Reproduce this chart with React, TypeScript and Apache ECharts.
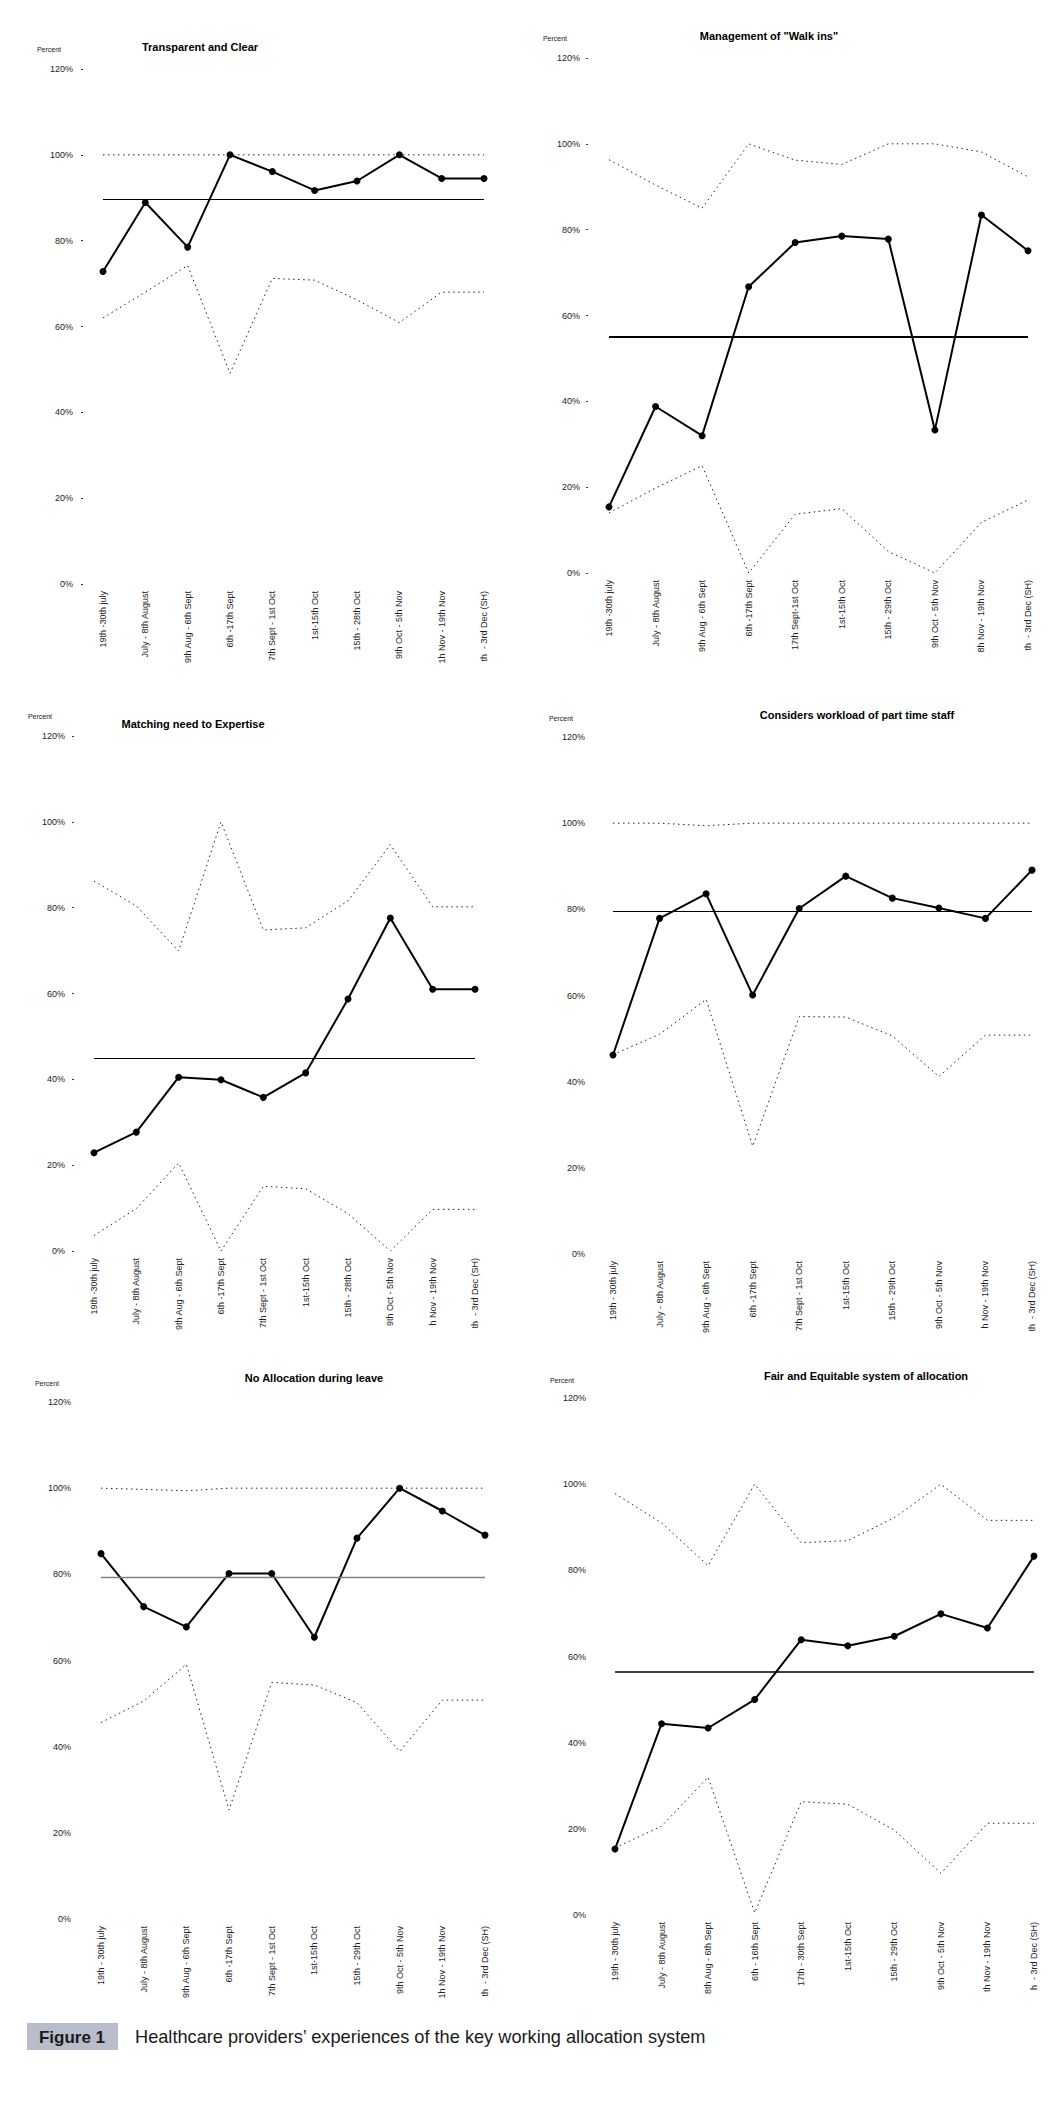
import React, { useEffect, useRef } from "react";
import * as echarts from "echarts";

const FONT = "'Liberation Sans', Arial, Helvetica, sans-serif";

// y axis scale (percent)
const yMin = 0;
const yMax = 120;
const yStep = 20;

// ---------- Chart 1: Transparent and Clear ----------
const catsTransparent = ["19th -30th july", "July - 8th August", "9th Aug - 6th Sept", "6th -17th Sept", "7th Sept - 1st Oct", "1st-15th Oct", "15th - 28th Oct", "9th Oct - 5th Nov", "1h Nov - 19th Nov", "th  - 3rd Dec (SH)"];
const valTransparent = [72.8, 88.9, 78.5, 100, 96.1, 91.7, 93.9, 100, 94.5, 94.5];
const uclTransparent = [100, 100, 100, 100, 100, 100, 100, 100, 100, 100];
const lclTransparent = [62, 68, 74.2, 49.1, 71.2, 70.8, 66.2, 60.9, 68, 68];
const meanTransparent = 89.6;

// ---------- Chart 2: Management of "Walk ins" ----------
const catsWalkIns = ["19th -30th july", "July - 8th August", "9th Aug - 6th Sept", "6th -17th Sept", "17th Sept-1st Oct", "1st-15th Oct", "15th - 29th Oct", "9th Oct - 5th Nov", "8h Nov - 19th Nov", "th  - 3rd Dec (SH)"];
const valWalkIns = [15.4, 38.8, 32, 66.7, 77, 78.5, 77.8, 33.3, 83.4, 75.1];
const uclWalkIns = [96.3, 90.4, 85, 100, 96.2, 95.2, 100, 100, 98.1, 92.3];
const lclWalkIns = [14, 19.8, 25, 0, 13.7, 15, 5, 0, 11.8, 17];
const meanWalkIns = 55.1;

// ---------- Chart 3: Matching need to Expertise ----------
const catsExpertise = ["19th -30th july", "July - 8th August", "9th Aug - 6th Sept", "6th -17th Sept", "7th Sept - 1st Oct", "1st-15th Oct", "15th - 28th Oct", "9th Oct - 5th Nov", "h Nov - 19th Nov", "th  - 3rd Dec (SH)"];
const valExpertise = [22.9, 27.7, 40.5, 39.9, 35.8, 41.5, 58.7, 77.6, 61, 61];
const uclExpertise = [86.2, 80.4, 69.9, 100, 74.8, 75.3, 81.6, 94.7, 80.2, 80.2];
const lclExpertise = [3.6, 9.9, 20.5, 0, 15.1, 14.5, 8.7, 0, 9.7, 9.7];
const meanExpertise = 45;

// ---------- Chart 4: Considers workload of part time staff ----------
const catsWorkload = ["19th - 30th july", "July - 8th August", "9th Aug - 6th Sept", "6th -17th Sept", "7th Sept - 1st Oct", "1st-15th Oct", "15th - 29th Oct", "9th Oct - 5th Nov", "h Nov - 19th Nov", "th  - 3rd Dec (SH)"];
const valWorkload = [46.2, 77.9, 83.6, 60.1, 80.2, 87.7, 82.6, 80.3, 77.9, 89.1];
const uclWorkload = [100, 100, 99.4, 100, 100, 100, 100, 100, 100, 100];
const lclWorkload = [46.3, 51, 59.1, 25, 55.1, 55, 50.6, 41.2, 50.8, 50.8];
const meanWorkload = 79.5;

// ---------- Chart 5: No Allocation during leave ----------
const catsLeave = ["19th - 30th july", "July - 8th August", "9th Aug - 6th Sept", "6th -17th Sept", "7th Sept - 1st Oct", "1st-15th Oct", "15th - 29th Oct", "9th Oct - 5th Nov", "1h Nov - 19th Nov", "th  - 3rd Dec (SH)"];
const valLeave = [84.8, 72.5, 67.8, 80.2, 80.2, 65.4, 88.4, 100, 94.7, 89.1];
const uclLeave = [100, 99.7, 99.4, 100, 100, 100, 100, 100, 100, 100];
const lclLeave = [45.6, 50.6, 59.1, 25.3, 54.9, 54.3, 50.2, 38.9, 50.8, 50.8];
const meanLeave = 79.3;

// ---------- Chart 6: Fair and Equitable system of allocation ----------
const catsFair = ["19th - 30th july", "July - 8th August", "8th Aug - 6th Sept", "6th - 16th Sept", "17th - 30th Sept", "1st-15th Oct", "15th - 29th Oct", "9th Oct - 5th Nov", "th Nov - 19th Nov", "h  - 3rd Dec (SH)"];
const valFair = [15.3, 44.4, 43.4, 50, 63.9, 62.5, 64.7, 69.9, 66.6, 83.3];
const uclFair = [97.8, 91, 81.1, 100, 86.4, 86.9, 92.2, 100, 91.6, 91.6];
const lclFair = [15.6, 20.6, 32, 0.5, 26.3, 25.7, 19.7, 9.7, 21.3, 21.3];
const meanFair = 56.4;

const titles = [
  "Transparent and Clear",
  'Management of "Walk ins"',
  "Matching need to Expertise",
  "Considers workload of part time staff",
  "No Allocation during leave",
  "Fair and Equitable system of allocation",
];
const captionTag = "Figure 1";
const captionText = "Healthcare providers\u2019 experiences of the key working allocation system";

// layout (pixels) for each panel
const panels = [
  { cats: catsTransparent, val: valTransparent, ucl: uclTransparent, lcl: lclTransparent, mean: meanTransparent,
    grid: { left: 103, top: 69, width: 381, height: 515 }, tickDots: true, yOffset: 20, yMargin: 10,
    titlePos: [200, 47], percentPos: [49, 49], meanColor: "#000", meanWidth: 1.2 },
  { cats: catsWalkIns, val: valWalkIns, ucl: uclWalkIns, lcl: lclWalkIns, mean: meanWalkIns,
    grid: { left: 609, top: 58, width: 419, height: 515 }, tickDots: true, yOffset: 21, yMargin: 8,
    titlePos: [769, 36], percentPos: [555, 38], meanColor: "#000", meanWidth: 2 },
  { cats: catsExpertise, val: valExpertise, ucl: uclExpertise, lcl: lclExpertise, mean: meanExpertise,
    grid: { left: 94, top: 736, width: 381, height: 515 }, tickDots: true, yOffset: 20, yMargin: 9,
    titlePos: [193, 724], percentPos: [40, 716], meanColor: "#000", meanWidth: 1.2 },
  { cats: catsWorkload, val: valWorkload, ucl: uclWorkload, lcl: lclWorkload, mean: meanWorkload,
    grid: { left: 613, top: 737, width: 419, height: 517 }, tickDots: false, yOffset: 0, yMargin: 28,
    titlePos: [857, 715], percentPos: [561, 718], meanColor: "#000", meanWidth: 1.2 },
  { cats: catsLeave, val: valLeave, ucl: uclLeave, lcl: lclLeave, mean: meanLeave,
    grid: { left: 101, top: 1402, width: 384, height: 517 }, tickDots: false, yOffset: 0, yMargin: 30,
    titlePos: [314, 1378], percentPos: [47, 1383], meanColor: "#808080", meanWidth: 1.3 },
  { cats: catsFair, val: valFair, ucl: uclFair, lcl: lclFair, mean: meanFair,
    grid: { left: 615, top: 1398, width: 419, height: 517 }, tickDots: false, yOffset: 0, yMargin: 29,
    titlePos: [866, 1376], percentPos: [562, 1380], meanColor: "#000", meanWidth: 1.6 },
];

function buildOption() {
  const grid: any[] = [];
  const xAxis: any[] = [];
  const yAxis: any[] = [];
  const series: any[] = [];
  const graphic: any[] = [];

  panels.forEach((p, i) => {
    grid.push({ ...p.grid, containLabel: false, outerBoundsMode: "none" });
    xAxis.push({
      type: "category",
      gridIndex: i,
      data: p.cats,
      boundaryGap: false,
      axisLine: { show: false },
      axisTick: { show: false },
      splitLine: { show: false },
      axisLabel: {
        rotate: 90,
        interval: 0,
        margin: 7,
        fontSize: 9,
        fontFamily: FONT,
        color: "#222",
      },
    });
    yAxis.push({
      type: "value",
      gridIndex: i,
      min: yMin,
      max: yMax,
      interval: yStep,
      offset: p.yOffset,
      axisLine: { show: false },
      axisTick: p.tickDots
        ? { show: true, length: 2, lineStyle: { color: "#333", width: 1 } }
        : { show: false },
      splitLine: { show: false },
      axisLabel: {
        margin: p.yMargin,
        fontSize: 9,
        fontFamily: FONT,
        color: "#222",
        formatter: "{value}%",
      },
    });
    const dotted = { color: "#222", width: 1, type: [1.5, 3.5] };
    series.push({
      type: "line",
      xAxisIndex: i,
      yAxisIndex: i,
      data: p.ucl.map((v, k) =>
        k === 0
          ? { value: v, label: { show: true, formatter: "UCL", position: "right", distance: 3, fontSize: 5, fontFamily: FONT, color: "#333" } }
          : v
      ),
      symbol: "none",
      lineStyle: dotted,
      z: 2,
      silent: true,
    });
    series.push({
      type: "line",
      xAxisIndex: i,
      yAxisIndex: i,
      data: p.lcl.map((v, k) =>
        k === 0
          ? { value: v, label: { show: true, formatter: "LCL", position: "right", distance: 3, fontSize: 5, fontFamily: FONT, color: "#333" } }
          : v
      ),
      symbol: "none",
      lineStyle: dotted,
      z: 2,
      silent: true,
    });
    series.push({
      type: "line",
      xAxisIndex: i,
      yAxisIndex: i,
      data: p.val,
      symbol: "circle",
      symbolSize: 7,
      itemStyle: { color: "#000" },
      lineStyle: { color: "#000", width: 2 },
      z: 4,
      markLine: {
        silent: true,
        symbol: ["none", "none"],
        label: { show: false },
        lineStyle: { color: p.meanColor, width: p.meanWidth, type: "solid" },
        data: [{ yAxis: p.mean }],
      },
    });
    graphic.push({
      type: "text",
      x: p.titlePos[0],
      y: p.titlePos[1],
      style: {
        text: titles[i],
        fontSize: 11,
        fontWeight: "bold",
        fontFamily: FONT,
        fill: "#000",
        align: "center",
        verticalAlign: "middle",
        textAlign: "center",
        textVerticalAlign: "middle",
      },
    });
    graphic.push({
      type: "text",
      x: p.percentPos[0],
      y: p.percentPos[1],
      style: {
        text: "Percent",
        fontSize: 7,
        fontFamily: FONT,
        fill: "#222",
        align: "center",
        verticalAlign: "middle",
        textAlign: "center",
        textVerticalAlign: "middle",
      },
    });
  });

  graphic.push({
    type: "rect",
    shape: { x: 27, y: 2023, width: 91, height: 27 },
    style: { fill: "#b9bccb" },
  });
  graphic.push({
    type: "text",
    x: 72,
    y: 2037,
    style: {
      text: captionTag,
      fontSize: 17,
      fontWeight: "bold",
      fontFamily: "'Liberation Sans Narrow', 'Liberation Sans', Arial, sans-serif",
      fill: "#1a1a1a",
      align: "center",
      verticalAlign: "middle",
      textAlign: "center",
      textVerticalAlign: "middle",
    },
  });
  graphic.push({
    type: "text",
    x: 135,
    y: 2037,
    style: {
      text: captionText,
      fontSize: 18.2,
      fontFamily: "'Liberation Sans Narrow', 'Liberation Sans', Arial, sans-serif",
      fill: "#1a1a1a",
      align: "left",
      verticalAlign: "middle",
      textAlign: "left",
      textVerticalAlign: "middle",
    },
  });

  return {
    animation: false,
    backgroundColor: "#ffffff",
    grid,
    xAxis,
    yAxis,
    series,
    graphic,
  };
}

export default function App() {
  const ref = useRef<HTMLDivElement>(null);
  useEffect(() => {
    if (!ref.current) return;
    const chart = echarts.init(ref.current, undefined, { renderer: "svg" });
    chart.setOption(buildOption() as any);
    return () => chart.dispose();
  }, []);
  return (
    <div
      ref={ref}
      style={{ position: "absolute", left: 0, top: 0, width: 1048, height: 2128, background: "#fff" }}
    />
  );
}
